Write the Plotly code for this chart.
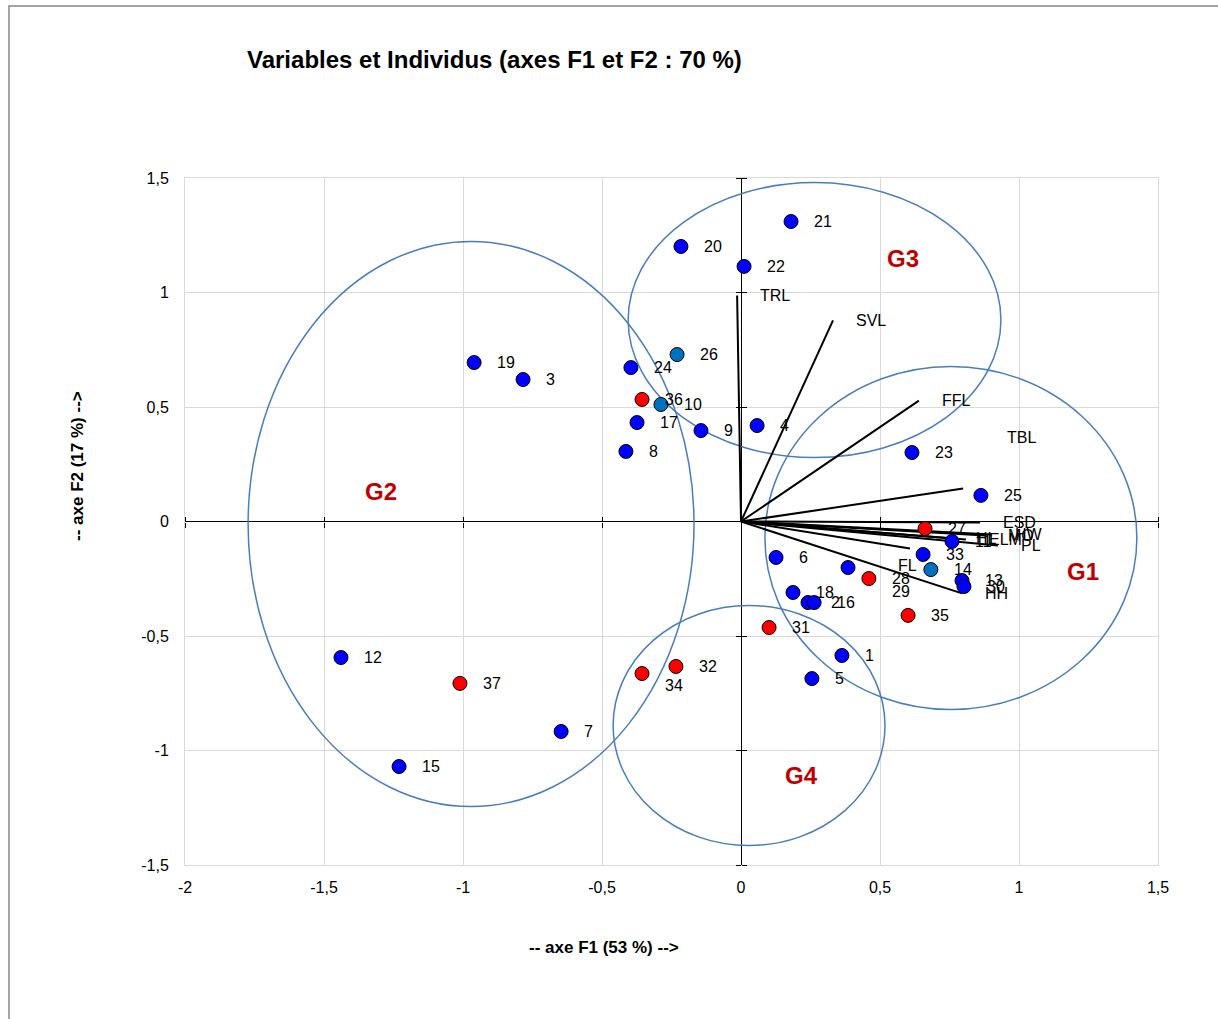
import plotly.graph_objects as go

# ---------------- data ----------------
ind_labels = ["1", "2", "3", "4", "5", "6", "7", "8", "9", "10",
              "11", "12", "13", "14", "15", "16", "17", "18", "19", "20",
              "21", "22", "23", "24", "25", "26", "27", "28", "29", "30",
              "31", "32", "33", "34", "35", "36", "37"]
ind_f1 = [0.363, 0.241, -0.784, 0.058, 0.255, 0.126, -0.647, -0.414, -0.144, -0.288,
          0.759, -1.439, 0.795, 0.683, -1.230, 0.263, -0.374, 0.187, -0.960, -0.216,
          0.180, 0.011, 0.615, -0.396, 0.863, -0.230, 0.662, 0.460, 0.385, 0.802,
          0.101, -0.234, 0.655, -0.356, 0.601, -0.356, -1.011]
ind_f2 = [-0.585, -0.354, 0.620, 0.419, -0.686, -0.157, -0.917, 0.306, 0.397, 0.511,
          -0.087, -0.594, -0.258, -0.210, -1.070, -0.354, 0.432, -0.310, 0.694, 1.201,
          1.310, 1.114, 0.301, 0.672, 0.114, 0.729, -0.031, -0.249, -0.201, -0.284,
          -0.463, -0.633, -0.144, -0.664, -0.410, 0.533, -0.707]
ind_class = ["bleu", "bleu", "bleu", "bleu", "bleu", "bleu", "bleu", "bleu", "bleu", "clair",
             "bleu", "bleu", "bleu", "clair", "bleu", "bleu", "bleu", "bleu", "bleu", "bleu",
             "bleu", "bleu", "bleu", "bleu", "bleu", "clair", "rouge", "rouge", "bleu", "bleu",
             "rouge", "rouge", "bleu", "rouge", "rouge", "rouge", "rouge"]

var_labels = ["TRL", "SVL", "FFL", "TBL", "ESD", "HL", "ELM", "MO", "HW", "PL", "HH", "FL"]
var_f1 = [-0.014, 0.331, 0.640, 0.799, 0.860, 0.763, 0.809, 0.878, 0.903, 0.924, 0.795, 0.608]
var_f2 = [0.987, 0.878, 0.528, 0.144, -0.004, -0.074, -0.079, -0.061, -0.057, -0.105, -0.314, -0.118]

group_labels = ["G1", "G2", "G3", "G4"]
group_x0 = [0.086, -1.773, -0.406, -0.460]
group_x1 = [1.424, -0.169, 0.935, 0.518]
group_y0 = [-0.821, -1.245, 0.279, -1.415]
group_y1 = [0.677, 1.223, 1.480, -0.367]
group_lab_x = [1.230, -1.295, 0.583, 0.216]
group_lab_y = [-0.218, 0.131, 1.148, -1.109]

x_ticks = [-2, -1.5, -1, -0.5, 0, 0.5, 1, 1.5]
x_tick_labels = ["-2", "-1,5", "-1", "-0,5", "0", "0,5", "1", "1,5"]
y_ticks = [-1.5, -1, -0.5, 0, 0.5, 1, 1.5]
y_tick_labels = ["-1,5", "-1", "-0,5", "0", "0,5", "1", "1,5"]

title_text = "Variables et Individus (axes F1 et F2 : 70 %)"
x_title = "-- axe F1 (53 %) -->"
y_title = "-- axe F2 (17 %) -->"

# ---------------- styles ----------------
W, H = 1218, 1019
ML, MR, MT, MB = 185, 60, 178, 154
FONT = "Liberation Sans, Arial, sans-serif"
class_colors = {"bleu": "#0000FF", "rouge": "#FF0000", "clair": "#0070C0"}
ind_label_shift = {"29": (42, -24), "34": (21, -12)}
var_label_shift = {"TBL": (42, 51), "FL": (-14, -17)}
DEFAULT_SHIFT = 21

fig = go.Figure()

# vectors of variables
vx, vy = [], []
for a, b in zip(var_f1, var_f2):
    vx += [0, a, None]
    vy += [0, b, None]
fig.add_trace(go.Scatter(x=vx, y=vy, mode="lines",
                         line=dict(color="black", width=2),
                         hoverinfo="skip", showlegend=False))

# individuals
fig.add_trace(go.Scatter(
    x=ind_f1, y=ind_f2, mode="markers",
    marker=dict(size=14, color=[class_colors[c] for c in ind_class],
                line=dict(color="black", width=1)),
    text=ind_labels, hoverinfo="text", showlegend=False))

# dummy traces for the crossing tick axes
for xa, ya in [("x2", "y"), ("x3", "y"), ("x", "y2"), ("x", "y3")]:
    fig.add_trace(go.Scatter(x=[None], y=[None], xaxis=xa, yaxis=ya,
                             showlegend=False, hoverinfo="skip"))

annotations = []
for lab, a, b in zip(ind_labels, ind_f1, ind_f2):
    dx, dy = ind_label_shift.get(lab, (DEFAULT_SHIFT, 0))
    annotations.append(dict(x=a, y=b, xref="x", yref="y", text=lab, showarrow=False,
                            xanchor="left", yanchor="middle", xshift=dx, yshift=dy,
                            font=dict(family=FONT, size=16, color="black")))
for lab, a, b in zip(var_labels, var_f1, var_f2):
    dx, dy = var_label_shift.get(lab, (DEFAULT_SHIFT, 0))
    annotations.append(dict(x=a, y=b, xref="x", yref="y", text=lab, showarrow=False,
                            xanchor="left", yanchor="middle", xshift=dx, yshift=dy,
                            font=dict(family=FONT, size=16, color="black")))
for lab, a, b in zip(group_labels, group_lab_x, group_lab_y):
    annotations.append(dict(x=a, y=b, xref="x", yref="y", text="<b>%s</b>" % lab,
                            showarrow=False, xanchor="center", yanchor="middle",
                            font=dict(family=FONT, size=24, color="#C00000")))

pw, ph = W - ML - MR, H - MT - MB
annotations.append(dict(x=(604 - ML) / pw, y=(H - MB - 947) / ph, xref="paper", yref="paper",
                        text="<b>%s</b>" % x_title, showarrow=False,
                        xanchor="center", yanchor="middle",
                        font=dict(family=FONT, size=17, color="black")))
annotations.append(dict(x=(77 - ML) / pw, y=(H - MB - 466) / ph, xref="paper", yref="paper",
                        text="<b>%s</b>" % y_title, showarrow=False, textangle=-90,
                        xanchor="center", yanchor="middle",
                        font=dict(family=FONT, size=17, color="black")))
annotations.append(dict(x=(494 - ML) / pw, y=(H - MB - 60) / ph, xref="paper", yref="paper",
                        text="<b>%s</b>" % title_text, showarrow=False,
                        xanchor="center", yanchor="middle",
                        font=dict(family=FONT, size=24, color="black")))

shapes = []
for x0, x1, y0, y1 in zip(group_x0, group_x1, group_y0, group_y1):
    shapes.append(dict(type="circle", xref="x", yref="y", x0=x0, x1=x1, y0=y0, y1=y1,
                       line=dict(color="#4A7EBB", width=1.5), layer="between"))
# outer frame of the chart
shapes.append(dict(type="rect", xref="paper", yref="paper",
                   x0=(9 - ML) / pw, x1=1.5, y0=-1.0, y1=(H - MB - 6) / ph,
                   line=dict(color="#868686", width=1.5), layer="below"))

xr = [-2, 1.5]
yr = [-1.5, 1.5]
zero_y_paper = (0 - yr[0]) / (yr[1] - yr[0])
zero_x_paper = (0 - xr[0]) / (xr[1] - xr[0])
xt_nz = [t for t in x_ticks if t != 0]
yt_nz = [t for t in y_ticks if t != 0]

grid = "#D9D9D9"
fig.update_layout(
    width=W, height=H,
    margin=dict(l=ML, r=MR, t=MT, b=MB),
    paper_bgcolor="white", plot_bgcolor="white",
    showlegend=False,
    annotations=annotations,
    shapes=shapes,
    xaxis=dict(range=xr, tickvals=x_ticks, ticktext=x_tick_labels,
               showgrid=True, gridcolor=grid, gridwidth=1,
               zeroline=True, zerolinecolor="black", zerolinewidth=1.3,
               showline=True, linecolor=grid, linewidth=1, mirror=True,
               ticks="", ticklabelstandoff=8,
               tickfont=dict(family=FONT, size=16, color="black")),
    yaxis=dict(range=yr, tickvals=y_ticks, ticktext=y_tick_labels,
               showgrid=True, gridcolor=grid, gridwidth=1,
               zeroline=True, zerolinecolor="black", zerolinewidth=1.3,
               showline=True, linecolor=grid, linewidth=1, mirror=True,
               ticks="", ticklabelstandoff=12,
               tickfont=dict(family=FONT, size=16, color="black")),
    xaxis2=dict(range=xr, overlaying="x", anchor="free", position=zero_y_paper, side="bottom",
                tickvals=xt_nz, ticks="outside", ticklen=5, tickcolor="black", tickwidth=1,
                showticklabels=False, showgrid=False, zeroline=False, showline=False),
    xaxis3=dict(range=xr, overlaying="x", anchor="free", position=zero_y_paper, side="top",
                tickvals=xt_nz, ticks="outside", ticklen=5, tickcolor="black", tickwidth=1,
                showticklabels=False, showgrid=False, zeroline=False, showline=False),
    yaxis2=dict(range=yr, overlaying="y", anchor="free", position=zero_x_paper, side="left",
                tickvals=yt_nz, ticks="outside", ticklen=5, tickcolor="black", tickwidth=1,
                showticklabels=False, showgrid=False, zeroline=False, showline=False),
    yaxis3=dict(range=yr, overlaying="y", anchor="free", position=zero_x_paper, side="right",
                tickvals=yt_nz, ticks="outside", ticklen=5, tickcolor="black", tickwidth=1,
                showticklabels=False, showgrid=False, zeroline=False, showline=False),
)

fig.write_html("out.html")
